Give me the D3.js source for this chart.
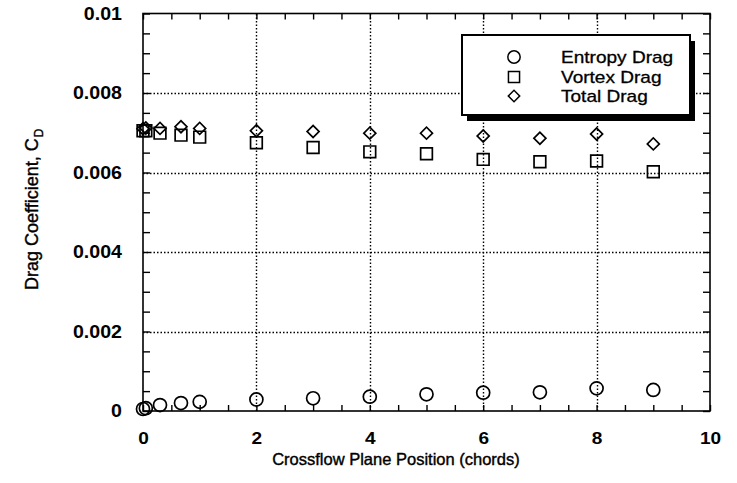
<!DOCTYPE html>
<html><head><meta charset="utf-8">
<script src="https://cdn.jsdelivr.net/npm/d3@7/dist/d3.min.js"></script>
<style>body{margin:0;background:#fff}svg{display:block}</style>
</head><body>
<svg id="chart" width="737" height="483"></svg>
<script>
// ---- data ----
const positions   = [0, 0.05, 0.3, 0.67, 1, 2, 3, 4, 5, 6, 7, 8, 9];
const entropyDrag = [0.00005, 0.00007, 0.00015, 0.00020, 0.00023, 0.00029, 0.00032, 0.00036, 0.00042, 0.00046, 0.00047, 0.00057, 0.00053];
const vortexDrag  = [0.00705, 0.00705, 0.00699, 0.00694, 0.00689, 0.00675, 0.00663, 0.00652, 0.00647, 0.00633, 0.00627, 0.00629, 0.00602];
const totalDrag   = [0.00710, 0.00712, 0.00711, 0.00715, 0.00711, 0.00705, 0.00703, 0.00699, 0.00699, 0.00692, 0.00686, 0.00697, 0.00672];
const seriesNames = ["Entropy Drag", "Vortex Drag", "Total Drag"];
const xTickValues = [0, 2, 4, 6, 8, 10];
const xTickLabels = ["0", "2", "4", "6", "8", "10"];
const yTickValues = [0, 0.002, 0.004, 0.006, 0.008, 0.01];
const yTickLabels = ["0", "0.002", "0.004", "0.006", "0.008", "0.01"];
const xTitle = "Crossflow Plane Position (chords)";
const yTitle = "Drag Coefficient, C";
const yTitleSub = "D";

// ---- layout ----
const svg = d3.select("#chart");
const L = 143, T = 13.5, W = 567, H = 397.5;
const x = d3.scaleLinear().domain([0, 10]).range([L, L + W]);
const y = d3.scaleLinear().domain([0, 0.01]).range([T + H, T]);
const FONT = "'Liberation Sans', Arial, Helvetica, sans-serif";
const STRETCH = 1.12;
function stretch(sel, k) {
  sel.each(function () {
    const len = this.getComputedTextLength();
    d3.select(this).attr("textLength", len * k).attr("lengthAdjust", "spacingAndGlyphs");
  });
}

// gridlines
const grid = svg.append("g").attr("stroke", "#000").attr("stroke-width", 1.4).attr("stroke-dasharray", "1.5,2");
grid.selectAll("line.v").data(xTickValues.filter(v => v > 0 && v < 10)).join("line")
  .attr("x1", d => Math.round(x(d)) + 0.5).attr("x2", d => Math.round(x(d)) + 0.5).attr("y1", y(0)).attr("y2", y(0.01));
grid.selectAll("line.h").data(yTickValues.filter(v => v > 0 && v < 0.01)).join("line")
  .attr("x1", x(0)).attr("x2", x(10)).attr("y1", d => Math.round(y(d)) + 0.5).attr("y2", d => Math.round(y(d)) + 0.5);

// minor ticks (all four sides, inward)
const xMinor = d3.range(0, 10.001, 0.5);
const yMinor = d3.range(0, 0.01001, 0.0005);
const tickStyle = g => g.call(s => s.select(".domain").remove())
  .call(s => s.selectAll("line").attr("stroke", "#000").attr("stroke-width", 1.4));
svg.append("g").attr("transform", `translate(0,${y(0)})`)
  .call(d3.axisBottom(x).tickValues(xMinor).tickSize(-6).tickFormat("")).call(tickStyle);
svg.append("g").attr("transform", `translate(0,${y(0.01)})`)
  .call(d3.axisTop(x).tickValues(xMinor).tickSize(-6).tickFormat("")).call(tickStyle);
svg.append("g").attr("transform", `translate(${x(0)},0)`)
  .call(d3.axisLeft(y).tickValues(yMinor).tickSize(-7).tickFormat("")).call(tickStyle);
svg.append("g").attr("transform", `translate(${x(10)},0)`)
  .call(d3.axisRight(y).tickValues(yMinor).tickSize(-7).tickFormat("")).call(tickStyle);

// frame
svg.append("rect").attr("x", x(0)).attr("y", y(0.01)).attr("width", x(10) - x(0)).attr("height", y(0) - y(0.01))
  .attr("fill", "none").attr("stroke", "#000").attr("stroke-width", 1.6);

// tick labels
const xAx = svg.append("g").attr("transform", `translate(0,${y(0)})`)
  .call(d3.axisBottom(x).tickValues(xTickValues).tickSize(0).tickPadding(21).tickFormat((d, i) => xTickLabels[i]));
xAx.select(".domain").remove();
xAx.selectAll("text").attr("font-family", FONT).attr("font-size", 17).attr("font-weight", "bold").attr("fill", "#000")
  .call(stretch, STRETCH);
const yAx = svg.append("g").attr("transform", `translate(${x(0)},0)`)
  .call(d3.axisLeft(y).tickValues(yTickValues).tickSize(0).tickPadding(21).tickFormat((d, i) => yTickLabels[i]));
yAx.select(".domain").remove();
yAx.selectAll("text").attr("font-family", FONT).attr("font-size", 17.5).attr("font-weight", "bold").attr("fill", "#000")
  .call(stretch, STRETCH);

// axis titles
svg.append("text").attr("x", 396).attr("y", 465).attr("text-anchor", "middle")
  .attr("font-family", FONT).attr("font-size", 16.5).attr("fill", "#000")
  .attr("stroke", "#000").attr("stroke-width", 0.4).text(xTitle);
const yt = svg.append("text").attr("transform", "translate(38,290) rotate(-90)")
  .attr("font-family", FONT).attr("font-size", 18).attr("fill", "#000")
  .attr("stroke", "#000").attr("stroke-width", 0.4);
yt.append("tspan").text(yTitle);
yt.append("tspan").attr("dy", 5).attr("dx", 1).attr("font-size", 12).text(yTitleSub);

// markers
const shapes = [
  { type: d3.symbolCircle, size: 133, rot: 0 },
  { type: d3.symbolSquare, size: 137, rot: 0 },
  { type: d3.symbolSquare, size: 72, rot: 45 }
];
const seriesValues = [entropyDrag, vortexDrag, totalDrag];
seriesValues.forEach((vals, si) => {
  const sh = shapes[si];
  svg.append("g").selectAll("path").data(positions.map((p, i) => [p, vals[i]])).join("path")
    .attr("d", d3.symbol().type(sh.type).size(sh.size))
    .attr("transform", d => `translate(${x(d[0])},${y(d[1])}) rotate(${sh.rot})`)
    .attr("fill", "none").attr("stroke", "#000").attr("stroke-width", 1.7);
});

// legend
const lg = svg.append("g");
const lx = 462, ly = 35, lw = 228, lh = 80;
lg.append("rect").attr("x", lx + 5).attr("y", ly + 6).attr("width", lw).attr("height", lh).attr("fill", "#000");
lg.append("rect").attr("x", lx).attr("y", ly).attr("width", lw).attr("height", lh)
  .attr("fill", "#fff").attr("stroke", "#000").attr("stroke-width", 2);
const rowY = [57, 77, 96];
seriesNames.forEach((name, i) => {
  const sh = shapes[i];
  lg.append("path").attr("d", d3.symbol().type(sh.type).size(sh.size * 0.9))
    .attr("transform", `translate(514,${rowY[i]}) rotate(${sh.rot})`)
    .attr("fill", "none").attr("stroke", "#000").attr("stroke-width", 1.5);
  lg.append("text").attr("x", 561).attr("y", rowY[i]).attr("dy", "0.36em")
    .attr("font-family", FONT).attr("font-size", 17).attr("fill", "#000")
    .attr("stroke", "#000").attr("stroke-width", 0.3)
    .text(name).call(stretch, STRETCH);
});
</script>
</body></html>
